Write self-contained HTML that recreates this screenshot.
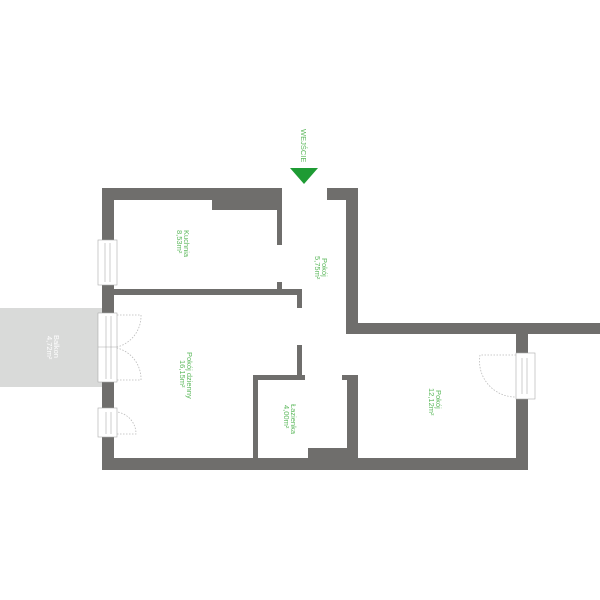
<!DOCTYPE html>
<html><head><meta charset="utf-8"><style>body{margin:0;background:#fff}svg{display:block}</style></head>
<body>
<svg width="600" height="600" viewBox="0 0 600 600" xmlns="http://www.w3.org/2000/svg" font-family="Liberation Sans, sans-serif">
<rect x="0" y="308" width="102" height="79" fill="#d9dad9"/>
<g fill="#6f6e6c">
<!-- kitchen top -->
<rect x="102" y="188" width="180" height="12"/>
<rect x="212" y="200" width="70" height="10"/>
<rect x="277" y="200" width="5" height="45"/>
<rect x="277" y="282" width="5" height="13"/>
<!-- left wall -->
<rect x="102" y="188" width="12" height="52"/>
<rect x="102" y="285" width="12" height="30"/>
<rect x="102" y="380" width="12" height="32"/>
<rect x="102" y="434" width="12" height="36"/>
<!-- kitchen/living wall -->
<rect x="114" y="289" width="188" height="6"/>
<rect x="297" y="289" width="5" height="19"/>
<!-- corridor right -->
<rect x="327" y="188" width="31" height="12"/>
<rect x="346" y="188" width="12" height="146"/>
<rect x="346" y="323" width="254" height="11"/>
<!-- living right stub -->
<rect x="297" y="345" width="5" height="35"/>
<rect x="253" y="375" width="52" height="5"/>
<rect x="253" y="375" width="5" height="85"/>
<!-- bathroom right -->
<rect x="342" y="375" width="15" height="5"/>
<rect x="347" y="375" width="11" height="90"/>
<rect x="308" y="448" width="45" height="12"/>
<!-- bottom -->
<rect x="102" y="458" width="426" height="12"/>
<!-- right room wall -->
<rect x="516" y="334" width="12" height="21"/>
<rect x="516" y="397" width="12" height="73"/>
</g>
<!-- windows -->
<g fill="#fff" stroke="#aaa" stroke-width="0.6">
<rect x="98" y="240" width="19" height="45"/>
<line x1="105" y1="243" x2="105" y2="282"/><line x1="110" y1="243" x2="110" y2="282"/>
<rect x="98" y="313" width="19" height="69"/>
<line x1="98" y1="347" x2="117" y2="347"/>
<line x1="106" y1="316" x2="106" y2="379"/><line x1="111" y1="316" x2="111" y2="379"/>
<rect x="98" y="408" width="19" height="29"/>
<line x1="106" y1="412" x2="106" y2="434"/><line x1="111" y1="412" x2="111" y2="434"/>
<rect x="516" y="353" width="19" height="46"/>
<line x1="522" y1="358" x2="522" y2="394"/><line x1="527" y1="358" x2="527" y2="394"/>
</g>
<!-- door arcs -->
<g fill="none" stroke="#bbb" stroke-width="0.8" stroke-dasharray="1.5,1.5">
<path d="M117 315 L141 315 A32 32 0 0 1 117 347"/>
<path d="M117 380 L141 380 A32 32 0 0 0 117 348"/>
<path d="M117 434 L136 434 A22 22 0 0 0 117 412"/>
<path d="M516 355 L480 355 A36 36 0 0 0 516 397"/>
</g>
<polygon points="290,168 318,168 304,184" fill="#1e9b34"/>
<g fill="#5cb85c" font-size="7.5">
<text transform="translate(301,129) rotate(90)">WEJŚCIE</text>
<text transform="translate(184,230) rotate(90)">Kuchnia</text>
<text transform="translate(177,230) rotate(90)">8,53m²</text>
<text transform="translate(322,258) rotate(90)">Pokój</text>
<text transform="translate(315,256) rotate(90)">5,75m²</text>
<text transform="translate(187,352) rotate(90)">Pokój dzienny</text>
<text transform="translate(180,360) rotate(90)">16,15m²</text>
<text transform="translate(291,404) rotate(90)">Łazienka</text>
<text transform="translate(284,405) rotate(90)">4,00m²</text>
<text transform="translate(436,390) rotate(90)">Pokój</text>
<text transform="translate(429,388) rotate(90)">12,12m²</text>
</g>
<g fill="#fff" font-size="7.5">
<text transform="translate(54,335) rotate(90)">Balkon</text>
<text transform="translate(47,336) rotate(90)">4,72m²</text>
</g>
</svg>
</body></html>
